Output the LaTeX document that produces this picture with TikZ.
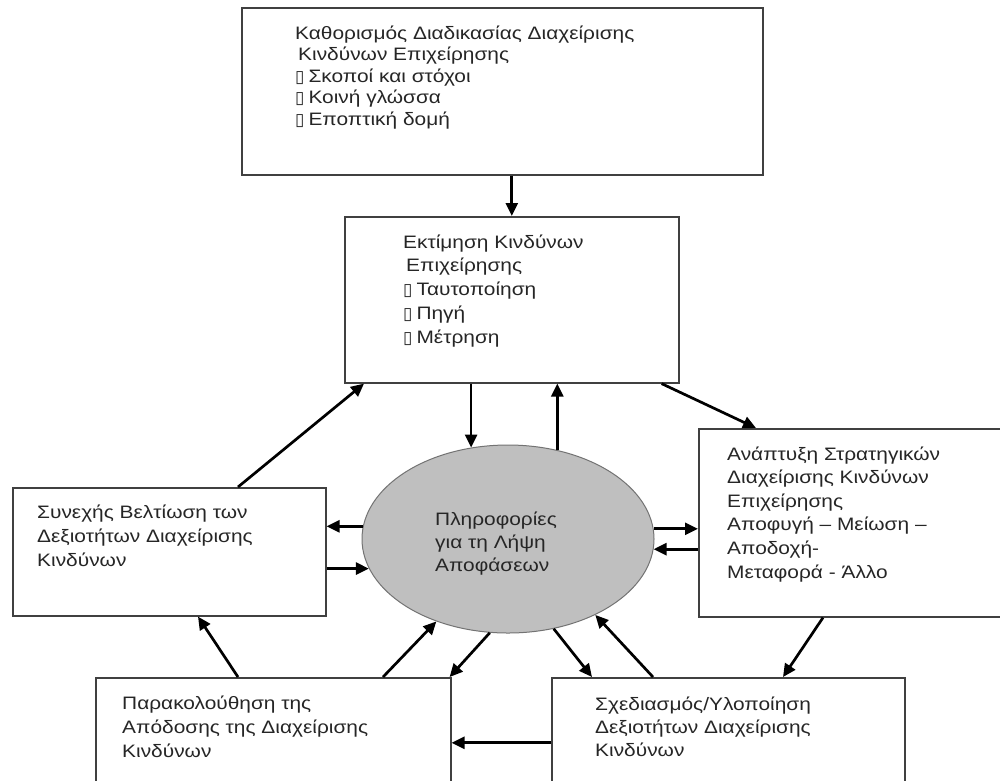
\documentclass[tikz,border=0pt]{standalone}
\usepackage{fontspec}
\setmainfont{Liberation Sans}[FakeStretch=1.16]
\newfontfamily\bulletfont{DejaVu Sans}
\usetikzlibrary{arrows.meta,shapes.geometric}
\newcommand\mylines[1]{\begin{tabular}[t]{@{}l@{}}#1\end{tabular}}
\newcommand\bx{{\bulletfont\fontsize{17}{17}\selectfont ▯}\hspace{4pt}}
\begin{document}
\begin{tikzpicture}[x=1pt,y=-1pt,
  box/.style={draw=black!75,line width=1.6pt,fill=white,inner sep=0pt,anchor=north west},
  infoell/.style={ellipse,draw=black!55,line width=1pt,fill=black!25,inner sep=0pt},
  arr/.style={line width=2.7pt,black,-{Triangle[length=13pt,width=12pt]}},
  txt/.style={anchor=base west,inner sep=0pt,text=black!85}]
\clip (0,0) rectangle (1000,780);
\fill[white] (0,0) rectangle (1000,780);
% boxes
\node[box,minimum width=521pt,minimum height=167pt] (top) at (241,7) {};
\node[box,minimum width=334pt,minimum height=166pt] (assess) at (344,216) {};
\node[box,minimum width=313pt,minimum height=128pt] (left) at (12,487) {};
\node[box,minimum width=320pt,minimum height=188pt] (right) at (698,428) {};
\node[box,minimum width=355pt,minimum height=130pt] (botleft) at (95,677) {};
\node[box,minimum width=353pt,minimum height=130pt] (botright) at (551,677) {};
\node[infoell,minimum width=292pt,minimum height=188pt] (ell) at (508,539) {};
% connectors
\draw[arr] (top.south -| assess.north) -- (assess.north);
\draw[arr] (ell.112.7 |- assess.south) -- (ell.112.7);
\draw[arr] (ell.61) -- (ell.61 |- assess.south);
\draw[arr] ([xshift=226pt]left.north west) -- ([xshift=20pt]assess.south west);
\draw[arr] ([xshift=-18pt]assess.south east) -- ([xshift=58pt]right.north west);
\draw[arr] (ell.175.7) -- (ell.175.7 -| left.east);
\draw[arr] (ell.192.7 -| left.east) -- (ell.192.7);
\draw[arr] (ell.4.3) -- (ell.4.3 -| right.west);
\draw[arr] (ell.-4.3 -| right.west) -- (ell.-4.3);
\draw[arr] ([xshift=125pt]right.south west) -- ([xshift=232pt]botright.north west);
\draw[arr] (ell.-63.8) -- ([xshift=41pt]botright.north west);
\draw[arr] ([xshift=102pt]botright.north west) -- (ell.-41);
\draw[arr] (botright.west) -- (botright.west -| botleft.east);
\draw[arr] ([xshift=288pt]botleft.north west) -- (ell.229.6);
\draw[arr] (ell.259) -- ([xshift=-2pt]botleft.north east);
\draw[arr] ([xshift=143pt]botleft.north west) -- ([xshift=186pt]left.south west);
% texts
\node[txt,font=\fontsize{18}{21.5}\selectfont] (toptxt) at (295,39)
  {\mylines{Καθορισμός Διαδικασίας Διαχείρισης\\\hspace{3pt}Κινδύνων Επιχείρησης\\\bx Σκοποί και στόχοι\\\bx Κοινή γλώσσα\\\bx Εποπτική δομή}};
\node[txt,font=\fontsize{18}{23.8}\selectfont] (assesstxt) at (403,248)
  {\mylines{Εκτίμηση Κινδύνων\\\hspace{3pt}Επιχείρησης\\\bx Ταυτοποίηση\\\bx Πηγή\\\bx Μέτρηση}};
\node[txt,font=\fontsize{18}{23.3}\selectfont] (elltxt) at (435,525)
  {\mylines{Πληροφορίες\\για τη Λήψη\\Αποφάσεων}};
\node[txt,font=\fontsize{18}{24}\selectfont] (lefttxt) at (37,518)
  {\mylines{Συνεχής Βελτίωση των\\Δεξιοτήτων Διαχείρισης\\Κινδύνων}};
\node[txt,font=\fontsize{18}{23.6}\selectfont] (righttxt) at (727,460)
  {\mylines{Ανάπτυξη Στρατηγικών\\Διαχείρισης Κινδύνων\\Επιχείρησης\\Αποφυγή – Μείωση –\\Αποδοχή-\\Μεταφορά - Άλλο}};
\node[txt,font=\fontsize{18}{24}\selectfont] (botlefttxt) at (122,709)
  {\mylines{Παρακολούθηση της\\Απόδοσης της Διαχείρισης\\Κινδύνων}};
\node[txt,font=\fontsize{18}{23}\selectfont] (botrighttxt) at (595,710)
  {\mylines{Σχεδιασμός/Υλοποίηση\\Δεξιοτήτων Διαχείρισης\\Κινδύνων}};
\end{tikzpicture}
\end{document}
